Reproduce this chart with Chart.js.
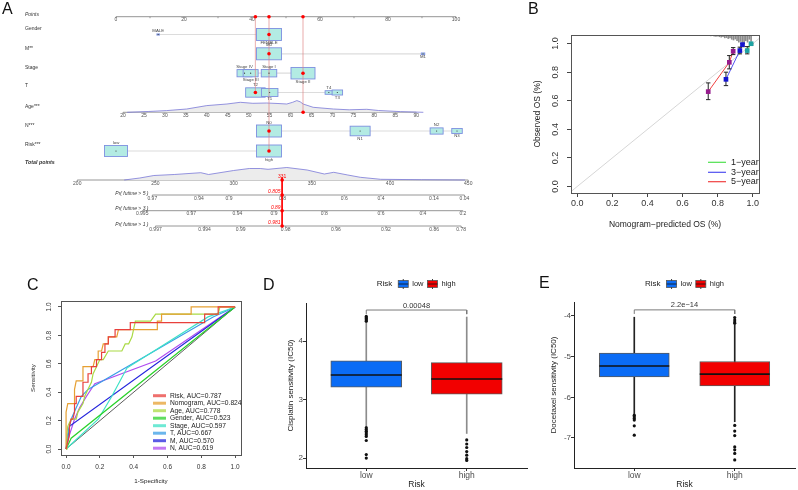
<!DOCTYPE html>
<html lang="en">
<head>
<meta charset="UTF-8">
<title>Nomogram, calibration, ROC and drug sensitivity</title>
<script src="https://cdn.jsdelivr.net/npm/chart.js@4.4.1/dist/chart.umd.min.js"></script>
<style>
  body { margin: 0; background: #fff; }
  #page { position: relative; width: 798px; height: 490px; overflow: hidden; }
  #page canvas { position: absolute; }
  .tag { position: absolute; font: 16px/16px 'Liberation Sans', Arial, sans-serif; color: #111; }
</style>
</head>
<body>
<div id="page">
  <canvas id="nomo" width="480" height="240" style="left:0;top:0"></canvas>
  <canvas id="calib" width="318" height="240" style="left:480px;top:0"></canvas>
  <canvas id="roc" width="270" height="250" style="left:0;top:240px"></canvas>
  <canvas id="cis" width="260" height="250" style="left:270px;top:240px"></canvas>
  <canvas id="doc" width="268" height="250" style="left:530px;top:240px"></canvas>
  <div class="tag" style="left:2px;top:1px">A</div>
  <div class="tag" style="left:528px;top:1px">B</div>
  <div class="tag" style="left:27px;top:277px">C</div>
  <div class="tag" style="left:263px;top:277px">D</div>
  <div class="tag" style="left:539px;top:275px">E</div>
</div>

<script>
// ---------------- data ----------------
// A: nomogram (points per category, relative group size)
const pointTicks = [0, 10, 20, 30, 40, 50, 60, 70, 80, 90, 100];
const ageTicks = [20, 25, 30, 35, 40, 45, 50, 55, 60, 65, 70, 75, 80, 85, 90];
const totalTicks = [200, 250, 300, 350, 400, 450];
const genderCats = ['MALE', 'FEMALE'], genderPts = [12.4, 45], genderFreq = [0.1, 1];
const mCats = ['M0', 'M1'], mPts = [45, 90.3], mFreq = [1, 0.14];
const stageCats = ['Stage IV', 'Stage III', 'Stage I', 'Stage II'], stagePts = [37.8, 39.6, 45, 55], stageFreq = [0.6, 0.6, 0.62, 0.96];
const tCats = ['T2', 'T1', 'T4', 'T3'], tPts = [41, 45.2, 62.6, 65.1], tFreq = [0.78, 0.66, 0.3, 0.42];
const nCats = ['N0', 'N1', 'N2', 'N3'], nPts = [45, 71.8, 94.3, 100.3], nFreq = [1, 0.8, 0.52, 0.42];
const riskCats = ['low', 'high'], riskPts = [0, 45], riskFreq = [0.92, 1];
const ageDensX = [21, 26, 30.4, 35.2, 40, 44.8, 48, 51, 54.3, 57, 59.1, 60.5, 61.5, 62.3, 63, 65.4, 70.2, 74, 78.2, 81, 86.2, 91.7];
const ageDens = [0, 0.8, 1.7, 3.3, 6.7, 8.3, 10, 9, 9.3, 8.8, 8.3, 10, 11.7, 10.5, 8.3, 5, 3.3, 2.5, 3, 1.8, 0.7, 0];
const totDensX = [230, 240, 249, 262, 279, 284, 300, 310, 317, 322, 334, 347, 358, 364, 373, 381, 394, 420, 448];
const totDens = [0, 2, 4.5, 5.5, 7.3, 5.5, 9.5, 11.5, 11.5, 10.7, 12.5, 10, 6, 7.7, 5, 2.7, 0.7, 0.3, 0];
const pr5Labels = ['0.97', '0.94', '0.9', '0.8', '0.6', '0.4', '0.14', '0.04'];
const pr5At = [248, 277.8, 297, 331.2, 370.7, 394.2, 428, 447.6];
const pr3Labels = ['0.995', '0.97', '0.94', '0.9', '0.8', '0.6', '0.4', '0.2'];
const pr3At = [241.5, 272.9, 302.4, 325.8, 357.9, 394.2, 421, 446.6];
const pr1Labels = ['0.997', '0.994', '0.99', '0.98', '0.96', '0.92', '0.86', '0.78'];
const pr1At = [250, 281.4, 304.5, 333.3, 365.4, 397.4, 428.2, 445.5];
const prNames = ['Pr( futime > 5 )', 'Pr( futime > 3 )', 'Pr( futime > 1 )'];
const patientCats = [1, 0, 3, 0, 0, 1];   // FEMALE, M0, Stage II, T2, N0, high
const patientAge = 63;
const patientProb = ['0.805', '0.89', '0.981'];

// B: calibration
const calTicks = [0, 0.2, 0.4, 0.6, 0.8, 1];
const cal1Pred = [0.968, 0.99], cal1Obs = [0.951, 0.999], cal1Lo = [0.928, 0.99], cal1Hi = [0.979, 1.0];
const cal3Pred = [0.847, 0.926, 0.941], cal3Obs = [0.75, 0.951, 0.993], cal3Lo = [0.706, 0.928, 0.978], cal3Hi = [0.8, 0.975, 1.0];
const cal5Pred = [0.746, 0.866, 0.888], cal5Obs = [0.664, 0.869, 0.946], cal5Lo = [0.608, 0.823, 0.923], cal5Hi = [0.725, 0.916, 0.972];
const rugX = [0.74, 0.76, 0.78, 0.79, 0.8, 0.81, 0.82, 0.83, 0.84, 0.85, 0.86, 0.87, 0.88, 0.89, 0.9, 0.91, 0.92, 0.93, 0.94, 0.95, 0.96, 0.97, 0.98, 0.99];
const rugLen = [0.005, 0.006, 0.008, 0.01, 0.008, 0.012, 0.015, 0.012, 0.02, 0.018, 0.025, 0.02, 0.03, 0.035, 0.028, 0.04, 0.05, 0.045, 0.06, 0.055, 0.04, 0.05, 0.03, 0.045];

// C: ROC curves, [1 - specificity, sensitivity]
const rocNames = ['Risk', 'Nomogram', 'Age', 'Gender', 'Stage', 'T', 'M', 'N'];
const rocAuc = ['0.787', '0.824', '0.778', '0.523', '0.597', '0.667', '0.570', '0.619'];
const rocRisk = [[0,0],[0.01,0.05],[0.02,0.1],[0.02,0.16],[0.03,0.21],[0.04,0.21],[0.05,0.26],[0.05,0.32],[0.06,0.32],[0.06,0.37],[0.1,0.37],[0.1,0.47],[0.13,0.47],[0.13,0.53],[0.15,0.53],[0.15,0.58],[0.18,0.58],[0.18,0.63],[0.21,0.63],[0.21,0.68],[0.23,0.68],[0.23,0.74],[0.25,0.74],[0.25,0.79],[0.29,0.79],[0.29,0.84],[0.38,0.84],[0.38,0.89],[0.82,0.89],[0.82,0.95],[0.9,0.95],[0.9,1],[1,1]];
const rocNomo = [[0,0],[0,0.26],[0.01,0.32],[0.05,0.32],[0.05,0.42],[0.06,0.48],[0.1,0.48],[0.1,0.58],[0.16,0.58],[0.17,0.63],[0.19,0.63],[0.19,0.69],[0.21,0.69],[0.22,0.74],[0.25,0.74],[0.25,0.79],[0.3,0.79],[0.31,0.84],[0.54,0.84],[0.54,0.9],[0.565,0.9],[0.565,0.95],[0.74,0.95],[0.74,1],[1,1]];
const rocAge = [[0,0],[0.005,0.1],[0.01,0.16],[0.03,0.21],[0.06,0.21],[0.07,0.26],[0.1,0.32],[0.11,0.37],[0.13,0.42],[0.15,0.47],[0.16,0.53],[0.18,0.58],[0.2,0.63],[0.22,0.63],[0.25,0.69],[0.33,0.69],[0.35,0.74],[0.37,0.74],[0.39,0.79],[0.41,0.9],[0.5,0.9],[0.53,0.95],[0.9,0.95],[0.91,1],[1,1]];
const rocGender = [[0,0],[0.03,0.076],[1,1]];
const rocStage = [[0,0],[0.19,0.21],[0.27,0.37],[0.36,0.57],[0.84,0.93],[1,1]];
const rocT = [[0,0],[0.01,0.1],[0.03,0.21],[0.06,0.29],[0.09,0.37],[0.13,0.42],[0.87,0.93],[1,1]];
const rocM = [[0,0],[0.02,0.16],[1,1]];
const rocN = [[0,0],[0.02,0.1],[0.05,0.21],[0.08,0.29],[0.12,0.37],[0.17,0.46],[0.53,0.62],[1,1]];

// D, E: drug sensitivity boxplots
const riskLevels = ['low', 'high'];
const cisQ1 = [3.21, 3.09], cisMed = [3.42, 3.35], cisQ3 = [3.66, 3.63], cisLo = [2.55, 2.42], cisHi = [4.32, 4.41];
const cisOutLow = [4.42, 4.4, 4.38, 4.36, 4.34, 2.52, 2.49, 2.46, 2.43, 2.4, 2.37, 2.3, 2.06, 2.0];
const cisOutHigh = [2.31, 2.24, 2.18, 2.11, 2.05, 1.99, 1.96];
const cisTicks = [2, 3, 4];
const docQ1 = [-5.5, -5.72], docMed = [-5.23, -5.43], docQ3 = [-4.91, -5.12], docLo = [-6.4, -6.6], docHi = [-4.03, -4.22];
const docOutLow = [-6.44, -6.48, -6.52, -6.56, -6.7, -6.93];
const docOutHigh = [-4.04, -4.1, -4.15, -4.18, -6.69, -6.83, -6.94, -7.22, -7.29, -7.38, -7.54];
const docTicks = [-7, -6, -5, -4];

// ---------------- shared ----------------
Chart.defaults.font.family = "'Liberation Sans', Arial, sans-serif";
Chart.defaults.color = '#333';
Chart.defaults.animation = false;
Chart.defaults.responsive = false;
Chart.defaults.events = [];
Chart.defaults.plugins.legend.display = false;
Chart.defaults.plugins.tooltip.enabled = false;

function txt(ctx, s, x, y, o = {}) {
  ctx.save();
  ctx.font = `${o.style || 'normal'} ${o.weight || 'normal'} ${o.size || 8}px 'Liberation Sans', Arial, sans-serif`;
  ctx.fillStyle = o.color || '#333';
  ctx.textAlign = o.align || 'center';
  ctx.textBaseline = 'middle';
  ctx.translate(x, y);
  if (o.rot) ctx.rotate(o.rot);
  ctx.fillText(s, 0, 0);
  ctx.restore();
}

// pin the plot area: area = [left, top, right, bottom] in canvas pixels
function fixed(W, H, area) {
  return {
    layout: { autoPadding: false, padding: { left: 0, top: area[1], right: W - area[2], bottom: 0 } },
    xFit: s => { s.height = H - area[3]; },
    yFit: s => { s.width = area[0]; }
  };
}

const frame = {
  id: 'frame',
  afterDatasetsDraw(chart) {
    const { ctx, chartArea: c } = chart;
    ctx.save();
    ctx.strokeStyle = '#555';
    ctx.lineWidth = 1;
    ctx.strokeRect(c.left + 0.5, c.top + 0.5, c.right - c.left, c.bottom - c.top);
    ctx.restore();
  }
};

// ---------------- A: nomogram ----------------
const agePts = a => 2.06 + (a - 20) * 1.232;
const totPts = t => -11.4 + (t - 200) * 0.46;
const nomoVars = [
  { cats: genderCats, pts: genderPts, freq: genderFreq, side: [-1, 1] },
  { cats: mCats, pts: mPts, freq: mFreq, side: [-1, 1] },
  { cats: stageCats, pts: stagePts, freq: stageFreq, side: [-1, 1, -1, 1] },
  { cats: tCats, pts: tPts, freq: tFreq, side: [-1, 1, -1, 1] },
  { cats: nCats, pts: nPts, freq: nFreq, side: [-1, 1, -1, 1] },
  { cats: riskCats, pts: riskPts, freq: riskFreq, side: [-1, 1] }
];
const rowNames = ['Points', 'Gender', 'M**', 'Stage', 'T', 'Age***', 'N***', 'Risk***', 'Total points'];
const rowNameY = [14.5, 29, 48.3, 67.7, 86, 106.7, 126, 145, 162.3];
const varRowY = [34.5, 53.8, 73.2, 92.5, 131, 151];
const rulerY = { points: 16.7, age: 112.3, total: 180, pr: [195, 210.7, 226] };
const rulers = [
  { y: rulerY.points, at: pointTicks, labels: pointTicks.map(v => v % 20 ? '' : String(v)), map: v => v },
  { y: rulerY.age, at: ageTicks, labels: ageTicks.map(String), map: agePts },
  { y: rulerY.total, at: totalTicks, labels: totalTicks.map(String), map: totPts },
  { y: rulerY.pr[0], at: pr5At, labels: pr5Labels, map: totPts },
  { y: rulerY.pr[1], at: pr3At, labels: pr3Labels, map: totPts },
  { y: rulerY.pr[2], at: pr1At, labels: pr1Labels, map: totPts }
];

const selList = nomoVars.map((v, i) => ({ p: v.pts[patientCats[i]], y: varRowY[i] }));
selList.push({ p: agePts(patientAge), y: rulerY.age });
const patientTotal = Math.round(selList.reduce((s, d) => s + d.p, 0));
const guideBottom = {};
selList.forEach(s => { const k = s.p.toFixed(1); guideBottom[k] = Math.max(guideBottom[k] || 0, s.y); });
const tp = totPts(patientTotal);

function drawBoxes(chart) {
  const { ctx, scales: { x, y } } = chart;
  ctx.save();
  ctx.fillStyle = '#b3ebe3';
  ctx.strokeStyle = '#7d8fe0';
  ctx.lineWidth = 0.9;
  nomoVars.forEach((v, i) => {
    const cy = y.getPixelForValue(varRowY[i]);
    v.pts.forEach((p, j) => {
      const cx = x.getPixelForValue(p), w = 25 * v.freq[j], h = 12 * v.freq[j];
      ctx.fillRect(cx - w / 2, cy - h / 2, w, h);
      ctx.strokeRect(cx - w / 2, cy - h / 2, w, h);
    });
  });
  ctx.restore();
}

const nomoPlugin = {
  id: 'nomo',
  beforeDatasetsDraw(chart) {
    const { ctx, scales: { x, y } } = chart;
    chart.$boxesDone = false;
    rulers.forEach(r => {
      const py = y.getPixelForValue(r.y);
      ctx.save();
      ctx.strokeStyle = '#8a8a8a';
      ctx.lineWidth = 0.9;
      ctx.beginPath();
      ctx.moveTo(x.getPixelForValue(r.map(r.at[0])), py);
      ctx.lineTo(x.getPixelForValue(r.map(r.at[r.at.length - 1])), py);
      r.at.forEach(v => {
        const px = x.getPixelForValue(r.map(v));
        ctx.moveTo(px, py);
        ctx.lineTo(px, py + 1.5);
      });
      ctx.stroke();
      ctx.restore();
      r.at.forEach((v, i) => txt(ctx, r.labels[i], x.getPixelForValue(r.map(v)), py + 3.4, { size: 5, color: '#555' }));
    });
  },
  beforeDatasetDraw(chart, args) {
    if (!chart.$boxesDone && chart.data.datasets[args.index].label === 'guide') {
      drawBoxes(chart);
      chart.$boxesDone = true;
    }
  },
  afterDatasetsDraw(chart) {
    const { ctx, scales: { x, y } } = chart;
    rowNames.forEach((n, i) => txt(ctx, n, 25, y.getPixelForValue(rowNameY[i]), {
      size: i === 8 ? 5.3 : 5, align: 'left', color: '#333',
      style: (i === 0 || i === 8) ? 'italic' : 'normal', weight: i === 8 ? 'bold' : 'normal'
    }));
    nomoVars.forEach((v, i) => v.cats.forEach((c, j) => {
      const h = 12 * v.freq[j];
      const ly = varRowY[i] + v.side[j] * (h / 2 + 2.6);
      txt(ctx, c, x.getPixelForValue(v.pts[j]), y.getPixelForValue(ly), { size: 4.3, color: '#444' });
    }));
    prNames.forEach((n, i) => txt(ctx, n, 148.5, y.getPixelForValue(rulerY.pr[i] - 1.8), { size: 5, align: 'right', style: 'italic', color: '#333' }));
    const px = x.getPixelForValue(tp);
    txt(ctx, String(patientTotal), px, y.getPixelForValue(rulerY.total - 3.3), { size: 5, color: '#ff0000' });
    patientProb.forEach((p, i) => txt(ctx, p, px - 1.5, y.getPixelForValue(rulerY.pr[i] - 3.3), { size: 5, align: 'right', style: 'italic', color: '#ff0000' }));
  }
};

const nomoSets = [
  {
    label: 'sel',
    data: [
      ...selList.map(s => ({ x: s.p, y: s.y })),
      ...Object.keys(guideBottom).map(k => ({ x: +k, y: rulerY.points })),
      { x: tp, y: rulerY.total },
      ...rulerY.pr.map(py => ({ x: tp, y: py }))
    ],
    pointRadius: 1.8, pointBackgroundColor: '#ff0000', pointBorderWidth: 0
  },
  { type: 'line', data: [{ x: tp, y: rulerY.total - 2.5 }, { x: tp, y: rulerY.pr[2] + 1 }], borderColor: '#ff0000', borderWidth: 1, pointRadius: 0 },
  {
    label: 'centres',
    data: nomoVars.flatMap((v, i) => v.pts.map(p => ({ x: p, y: varRowY[i] }))),
    pointRadius: 0.6, pointBackgroundColor: '#333', pointBorderWidth: 0
  },
  ...Object.keys(guideBottom).map(k => ({
    label: 'guide', type: 'line',
    data: [{ x: +k, y: rulerY.points }, { x: +k, y: guideBottom[k] }],
    borderColor: 'rgba(225,130,130,0.32)', borderWidth: 0.8, pointRadius: 0
  })),
  {
    type: 'line', data: ageDensX.map((a, i) => ({ x: agePts(a), y: rulerY.age - ageDens[i] })),
    borderColor: '#7a78d8', borderWidth: 0.8, backgroundColor: '#ececec', fill: { value: rulerY.age }, pointRadius: 0
  },
  {
    type: 'line', data: totDensX.map((t, i) => ({ x: totPts(t), y: rulerY.total - totDens[i] })),
    borderColor: '#7a78d8', borderWidth: 0.8, backgroundColor: '#ececec', fill: { value: rulerY.total }, pointRadius: 0
  },
  ...nomoVars.map((v, i) => ({
    type: 'line',
    data: [{ x: Math.min(...v.pts), y: varRowY[i] }, { x: Math.max(...v.pts), y: varRowY[i] }],
    borderColor: '#dcdcdc', borderWidth: 1.2, pointRadius: 0
  }))
];

new Chart(document.getElementById('nomo'), {
  type: 'scatter',
  data: { datasets: nomoSets },
  options: {
    layout: { autoPadding: false, padding: 0 },
    scales: {
      x: { type: 'linear', display: false, min: -34.12, max: 107.06 },
      y: { type: 'linear', display: false, min: 0, max: 240, reverse: true }
    }
  },
  plugins: [nomoPlugin]
});

// ---------------- B: calibration ----------------
const calSeries = [
  { name: '1-year', pred: cal1Pred, obs: cal1Obs, lo: cal1Lo, hi: cal1Hi, line: '#4ee04e', mark: '#1ea3a3' },
  { name: '3-year', pred: cal3Pred, obs: cal3Obs, lo: cal3Lo, hi: cal3Hi, line: '#5050f0', mark: '#1414d0' },
  { name: '5-year', pred: cal5Pred, obs: cal5Obs, lo: cal5Lo, hi: cal5Hi, line: '#f04040', mark: '#951b8c' }
];
const calYMin = -0.045, calYMax = 1.06;
const calFx = fixed(318, 240, [91, 35, 279, 193]);
const calSets = [];
calSeries.forEach(s => calSets.push({
  data: s.pred.map((p, i) => ({ x: p, y: s.obs[i] })),
  pointStyle: 'rect', pointRadius: 3.3, pointBackgroundColor: s.mark, pointBorderWidth: 0
}));
calSeries.forEach(s => calSets.push({
  data: s.pred.flatMap((p, i) => [{ x: p, y: s.lo[i] }, { x: p, y: s.hi[i] }]),
  pointStyle: 'line', pointRadius: 2.2, pointBorderColor: '#222', pointBorderWidth: 1
}));
calSeries.forEach(s => s.pred.forEach((p, i) => calSets.push({
  type: 'line', data: [{ x: p, y: s.lo[i] }, { x: p, y: s.hi[i] }], borderColor: '#222', borderWidth: 1, pointRadius: 0
})));
calSeries.forEach(s => calSets.push({
  type: 'line', data: s.pred.map((p, i) => ({ x: p, y: s.obs[i] })), borderColor: s.line, borderWidth: 1, pointRadius: 0
}));
calSets.push({
  type: 'bar', data: rugX.map((v, i) => ({ x: v, y: [calYMax - rugLen[i], calYMax] })),
  backgroundColor: '#8c8c8c', barThickness: 1, grouped: false
});
calSets.push({ type: 'line', data: [{ x: -0.2, y: -0.2 }, { x: 1.2, y: 1.2 }], borderColor: '#d6d6d6', borderWidth: 1, pointRadius: 0 });

const calLegend = {
  id: 'calLegend',
  afterDatasetsDraw(chart) {
    const ctx = chart.ctx;
    const ys = [162.3, 172.3, 181.7];
    calSeries.forEach((s, i) => {
      ctx.save();
      ctx.strokeStyle = s.line;
      ctx.lineWidth = 1.2;
      ctx.beginPath();
      ctx.moveTo(228, ys[i]);
      ctx.lineTo(246, ys[i]);
      ctx.stroke();
      ctx.restore();
      txt(ctx, s.name.replace('-', '\u2212'), 251, ys[i], { size: 9, align: 'left', color: '#222' });
    });
  }
};

new Chart(document.getElementById('calib'), {
  type: 'scatter',
  data: { datasets: calSets },
  options: {
    layout: calFx.layout,
    scales: {
      x: {
        type: 'linear', min: -0.035, max: 1.035, offset: false, afterFit: calFx.xFit,
        afterBuildTicks: s => { s.ticks = calTicks.map(v => ({ value: v })); },
        ticks: { font: { size: 9 }, color: '#333', padding: 1.6, callback: v => v.toFixed(1) },
        grid: { offset: false, drawOnChartArea: false, tickLength: 4, color: '#444' },
        border: { display: false },
        title: { display: true, text: 'Nomogram\u2212predicted OS (%)', font: { size: 8.5 }, color: '#222', padding: { top: 0, bottom: 9.9 } }
      },
      y: {
        type: 'linear', min: calYMin, max: calYMax, afterFit: calFx.yFit,
        afterBuildTicks: s => { s.ticks = calTicks.map(v => ({ value: v })); },
        ticks: { font: { size: 9 }, color: '#333', padding: 5.7, minRotation: 90, maxRotation: 90, crossAlign: 'center', callback: v => v.toFixed(1) },
        grid: { drawOnChartArea: false, tickLength: 4, color: '#444' },
        border: { display: false },
        title: { display: true, text: 'Observed OS (%)', font: { size: 8.5 }, color: '#222', padding: { top: 52.9, bottom: 0 } }
      }
    }
  },
  plugins: [frame, calLegend]
});

// ---------------- C: ROC ----------------
const rocCurves = [rocRisk, rocNomo, rocAge, rocGender, rocStage, rocT, rocM, rocN];
const rocColors = ['#e8403c', '#e6a032', '#a9da44', '#2bd22b', '#3ee2c6', '#3a9ee6', '#2424dc', '#b04cf0'];
const rocTicks = [0, 0.2, 0.4, 0.6, 0.8, 1];
const rocFx = fixed(270, 250, [61, 61, 241, 215]);
const rocLegend = {
  id: 'rocLegend',
  afterDatasetsDraw(chart) {
    const ctx = chart.ctx;
    rocNames.forEach((n, i) => {
      const y = 155.7 + i * 7.5;
      ctx.save();
      ctx.globalAlpha = 0.75;
      ctx.strokeStyle = rocColors[i];
      ctx.lineWidth = 3;
      ctx.beginPath();
      ctx.moveTo(153, y);
      ctx.lineTo(166, y);
      ctx.stroke();
      ctx.restore();
      txt(ctx, `${n}, AUC=${rocAuc[i]}`, 170, y, { size: 6.7, align: 'left', color: '#222' });
    });
  }
};

new Chart(document.getElementById('roc'), {
  type: 'line',
  data: {
    datasets: [
      ...rocCurves.map((c, i) => ({
        label: rocNames[i], data: c.map(p => ({ x: p[0], y: p[1] })),
        borderColor: rocColors[i], borderWidth: 1.2, pointRadius: 0
      })),
      { data: [{ x: 0, y: 0 }, { x: 1, y: 1 }], borderColor: '#333', borderWidth: 0.8, pointRadius: 0 }
    ]
  },
  options: {
    layout: rocFx.layout,
    scales: {
      x: {
        type: 'linear', min: -0.03, max: 1.035, afterFit: rocFx.xFit,
        afterBuildTicks: s => { s.ticks = rocTicks.map(v => ({ value: v })); },
        ticks: { font: { size: 6.5 }, color: '#333', padding: 5, callback: v => v.toFixed(1) },
        grid: { drawOnChartArea: false, tickLength: 3, color: '#555' },
        border: { display: false },
        title: { display: true, text: '1-Specificity', font: { size: 6.2 }, color: '#222', padding: { top: 0, bottom: 5.3 } }
      },
      y: {
        type: 'linear', min: -0.042, max: 1.042, afterFit: rocFx.yFit,
        afterBuildTicks: s => { s.ticks = rocTicks.map(v => ({ value: v })); },
        ticks: { font: { size: 6.5 }, color: '#333', padding: 4.5, minRotation: 90, maxRotation: 90, crossAlign: 'center', callback: v => v.toFixed(1) },
        grid: { drawOnChartArea: false, tickLength: 3, color: '#555' },
        border: { display: false },
        title: { display: true, text: 'Sensitivity', font: { size: 6.2 }, color: '#222', padding: { top: 29.3, bottom: 0 } }
      }
    }
  },
  plugins: [frame, rocLegend]
});

// ---------------- D, E: boxplots ----------------
const riskColors = ['#0b6cf5', '#f20000'];

const boxLegend = {
  id: 'boxLegend',
  afterDraw(chart, a, o) {
    const ctx = chart.ctx;
    ctx.save();
    let x = o.x;
    txt(ctx, 'Risk', x, o.y, { size: 8, align: 'left', color: '#222' });
    ctx.font = "8px 'Liberation Sans', Arial, sans-serif";
    x += ctx.measureText('Risk').width + 6;
    riskLevels.forEach((lv, i) => {
      ctx.fillStyle = riskColors[i];
      ctx.fillRect(x, o.y - 3.5, 10, 7);
      ctx.strokeStyle = '#555';
      ctx.lineWidth = 0.8;
      ctx.strokeRect(x, o.y - 3.5, 10, 7);
      ctx.strokeStyle = '#111';
      ctx.beginPath();
      ctx.moveTo(x, o.y); ctx.lineTo(x + 10, o.y);
      ctx.moveTo(x + 5, o.y - 5); ctx.lineTo(x + 5, o.y - 3.5);
      ctx.moveTo(x + 5, o.y + 3.5); ctx.lineTo(x + 5, o.y + 5);
      ctx.stroke();
      x += 14;
      txt(ctx, lv, x, o.y, { size: 7.5, align: 'left', color: '#222' });
      ctx.font = "7.5px 'Liberation Sans', Arial, sans-serif";
      x += ctx.measureText(lv).width + 4;
    });
    ctx.restore();
  }
};

const pval = {
  id: 'pval',
  afterDatasetsDraw(chart, a, o) {
    const { x, y } = chart.scales;
    txt(chart.ctx, o.text, x.getPixelForValue(1.5), y.getPixelForValue(o.y), { size: 7.5, color: '#333' });
  }
};

function boxPanel(id, W, H, area, d) {
  const fx = fixed(W, H, area);
  const out = [...d.outLow.map(v => ({ x: 1, y: v })), ...d.outHigh.map(v => ({ x: 2, y: v }))];
  new Chart(document.getElementById(id), {
    type: 'bar',
    data: {
      datasets: [
        {
          type: 'line', data: [{ x: 1, y: d.br[0] }, { x: 1, y: d.br[1] }, { x: 2, y: d.br[1] }, { x: 2, y: d.br[0] }],
          borderColor: '#7a7a7a', borderWidth: 1, pointRadius: 0
        },
        {
          type: 'scatter', data: d.med.map((m, i) => ({ x: i + 1, y: m })),
          pointStyle: 'line', pointRadius: d.boxW / 2, pointBorderColor: '#111', pointBorderWidth: 1.6
        },
        { type: 'scatter', data: out, pointRadius: 1.6, pointBackgroundColor: '#111', pointBorderWidth: 0 },
        {
          data: d.q1.map((q, i) => ({ x: i + 1, y: [q, d.q3[i]] })),
          backgroundColor: riskColors, borderColor: '#5a5a5a', borderWidth: 1, borderSkipped: false,
          barThickness: d.boxW, grouped: false
        },
        {
          data: d.lo.map((l, i) => ({ x: i + 1, y: [l, d.hi[i]] })),
          backgroundColor: d.whisker, barThickness: 1, grouped: false
        }
      ]
    },
    options: {
      layout: fx.layout,
      scales: {
        x: {
          type: 'linear', min: 0.4, max: 2.6, offset: false, afterFit: fx.xFit,
          afterBuildTicks: s => { s.ticks = riskLevels.map((_, i) => ({ value: i + 1 })); },
          ticks: { callback: v => riskLevels[v - 1], font: { size: 8.5 }, color: '#4d4d4d', padding: 0 },
          grid: { offset: false, drawOnChartArea: false, tickLength: 3, color: '#333' },
          border: { color: '#222' },
          title: { display: true, text: 'Risk', font: { size: 8.5 }, color: '#222', padding: { top: 0, bottom: 0 } }
        },
        y: {
          type: 'linear', min: d.yMin, max: d.yMax, afterFit: fx.yFit,
          afterBuildTicks: s => { s.ticks = d.ticks.map(v => ({ value: v })); },
          ticks: { font: { size: 8 }, color: '#4d4d4d', padding: 0 },
          grid: { drawOnChartArea: false, tickLength: 3, color: '#333' },
          border: { color: '#222' },
          title: { display: true, text: d.title, font: { size: 8 }, color: '#222', padding: { top: d.titlePad, bottom: 0 } }
        }
      },
      plugins: { boxLegend: { x: d.legX, y: 44 }, pval: { text: d.p, y: d.pY } }
    },
    plugins: [boxLegend, pval]
  });
}

boxPanel('cis', 260, 250, [36, 63, 257, 228], {
  q1: cisQ1, med: cisMed, q3: cisQ3, lo: cisLo, hi: cisHi, outLow: cisOutLow, outHigh: cisOutHigh,
  ticks: cisTicks, yMin: 1.83, yMax: 4.65, boxW: 71, whisker: '#8c8c8c',
  br: [4.46, 4.53], p: '0.00048', pY: 4.6,
  title: 'Cisplatin sensitivity (IC50)', titlePad: 16, legX: 106.7
});
boxPanel('doc', 268, 250, [44, 62, 265, 228], {
  q1: docQ1, med: docMed, q3: docQ3, lo: docLo, hi: docHi, outLow: docOutLow, outHigh: docOutHigh,
  ticks: docTicks, yMin: -7.738, yMax: -3.656, boxW: 70, whisker: '#222',
  br: [-3.95, -3.85], p: '2.2e\u221214', pY: -3.74,
  title: 'Docetaxel sensitivity (IC50)', titlePad: 19.2, legX: 115
});
</script>
</body>
</html>
